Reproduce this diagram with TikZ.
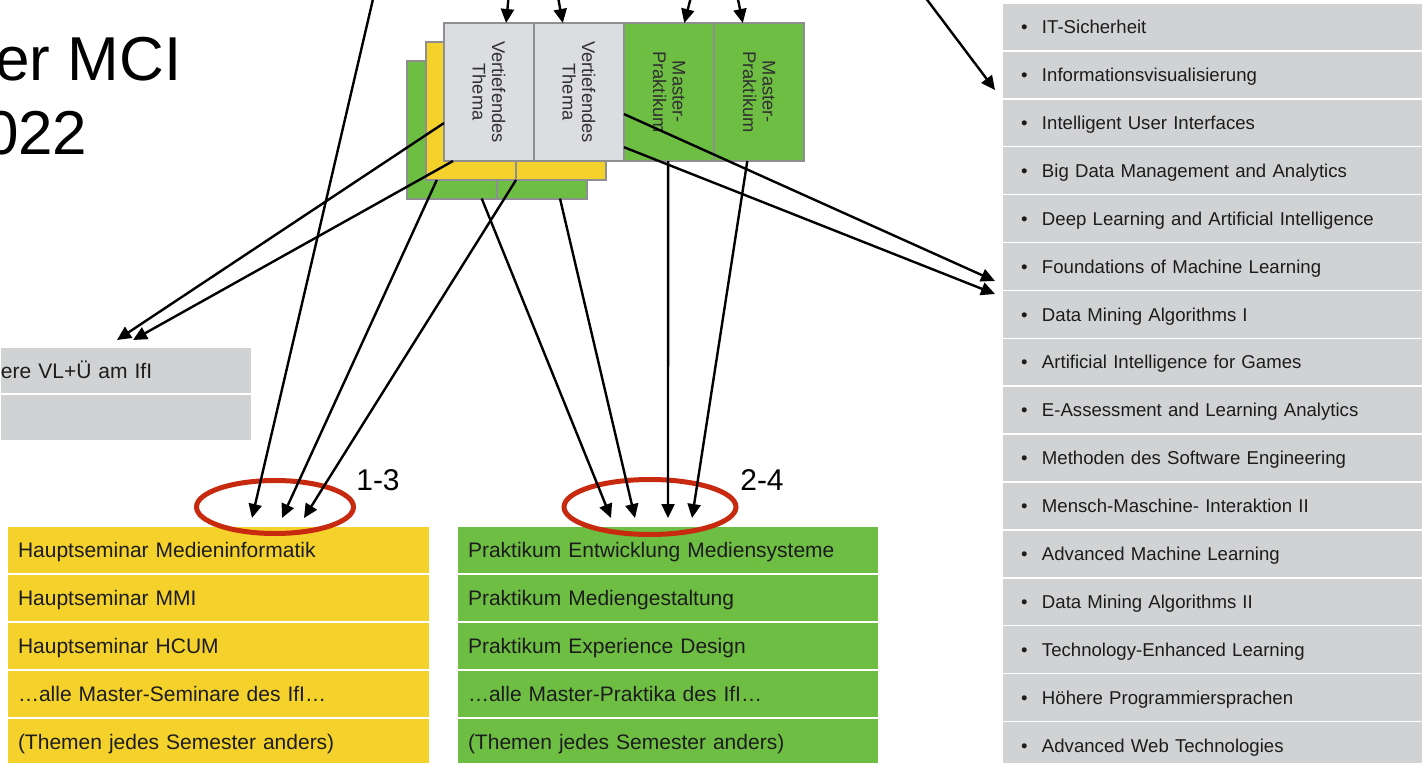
\documentclass[tikz,border=0pt]{standalone}
\usepackage{fontspec}
\setmainfont{Liberation Sans}
\usepackage{graphicx}
\usetikzlibrary{arrows.meta,calc,shapes.geometric}
\definecolor{boxgray}{HTML}{DCDDE1}
\definecolor{edgegray}{HTML}{8E8F91}
\definecolor{yel}{HTML}{F5D22B}
\definecolor{grn}{HTML}{6FBE44}
\definecolor{listgray}{HTML}{D1D2D4}
\definecolor{ringred}{HTML}{C82A10}
\definecolor{txt}{HTML}{1C1C1C}
\definecolor{boxtxt}{HTML}{303030}
\newcommand{\mcivtext}[1]{\rotatebox{-90}{\parbox{130pt}{\centering #1}}}
\begin{document}
\begin{tikzpicture}[x=1pt,y=-1pt,
  topbox/.style={draw=edgegray, line width=2pt, minimum width=90pt, minimum height=138pt,
    inner sep=0pt, outer sep=0pt, text=boxtxt, font=\fontsize{18.3}{19.5}\selectfont},
  vbox/.style={topbox, fill=boxgray},
  ybox/.style={topbox, fill=yel},
  gbox/.style={topbox, fill=grn},
  tabrow/.style={draw=white, line width=1.5pt, anchor=north west, outer sep=0pt,
    inner ysep=0pt, align=left, text depth=0pt, text=txt},
  yelrow/.style={tabrow, fill=yel, minimum height=48pt, inner xsep=11pt, text width=401pt,
    text height=15pt, font=\fontsize{21}{24}\selectfont},
  gnrow/.style={tabrow, fill=grn, minimum height=48pt, inner xsep=11pt, text width=400pt,
    text height=15pt, font=\fontsize{21}{24}\selectfont},
  leftrow/.style={tabrow, fill=listgray, minimum height=47pt, inner xsep=1pt, text width=250pt,
    text height=15pt, font=\fontsize{21}{24}\selectfont},
  listrow/.style={tabrow, fill=listgray, minimum height=47.9pt, inner xsep=19pt, text width=390pt,
    text height=13.3pt, font=\fontsize{18.6}{21}\selectfont},
  ring/.style={ellipse, draw=ringred, line width=5pt, inner sep=0pt},
  arr/.style={-{Triangle[length=14pt,width=13pt]}, line width=2.4pt, black},
  numlabel/.style={font=\fontsize{30}{30}\selectfont, text=black},
  titletext/.style={anchor=base east, font=\fontsize{62}{62}\selectfont, text=black}
]
\useasboundingbox (0,0) rectangle (1422,763);
\clip (0,0) rectangle (1422,763);

% title
\node[titletext] (title1) at (185,80) {er MCI};
\node[titletext] (title2) at (91,154) {022};

% stacked boxes
\node[gbox] (gb1) at (452,129.5) {};
\node[gbox] (gb2) at (542,129.5) {};
\node[ybox] (yb1) at (471,111) {};
\node[ybox] (yb2) at (561,111) {};
\node[vbox] (vt1) at (489,92) {\mcivtext{Vertiefendes\\Thema}};
\node[vbox] (vt2) at (579,92) {\mcivtext{Vertiefendes\\Thema}};
\node[gbox] (mp1) at (669,92) {\mcivtext{Master-\\Praktikum}};
\node[gbox] (mp2) at (759,92) {\mcivtext{Master-\\Praktikum}};

% left box
\node[leftrow] (lb1) at (0,347) {ere VL+Ü am IfI};
\node[leftrow] (lb2) at (0,394) {};

% seminar table
\foreach \t [count=\i] in {Hauptseminar Medieninformatik, Hauptseminar MMI, Hauptseminar HCUM,
  …alle Master-Seminare des IfI…, (Themen jedes Semester anders)}
  \node[yelrow] (ys\i) at (7,{526+48*(\i-1)}) {\t};

% praktikum table
\foreach \t [count=\i] in {Praktikum Entwicklung Mediensysteme, Praktikum Mediengestaltung,
  Praktikum Experience Design, …alle Master-Praktika des IfI…, (Themen jedes Semester anders)}
  \node[gnrow] (gp\i) at (457,{526+48*(\i-1)}) {\t};

% right list
\foreach \t [count=\i] in {IT-Sicherheit, Informationsvisualisierung, Intelligent User Interfaces,
  Big Data Management and Analytics, Deep Learning and Artificial Intelligence,
  Foundations of Machine Learning, Data Mining Algorithms I, Artificial Intelligence for Games,
  E-Assessment and Learning Analytics, Methoden des Software Engineering,
  Mensch-Maschine- Interaktion II, Advanced Machine Learning, Data Mining Algorithms II,
  Technology-Enhanced Learning, Höhere Programmiersprachen, Advanced Web Technologies}
  \node[listrow] (r\i) at (1002,{3+47.9*(\i-1)}) {\makebox[21pt][l]{•}\t};

% red rings and counts
\node[ring, minimum width=157pt, minimum height=53pt] (ring1) at (275,507) {};
\node[ring, minimum width=172pt, minimum height=55pt] (ring2) at (650,507) {};
\node[numlabel] (n13) at (378,480) {1-3};
\node[numlabel] (n24) at (762,480) {2-4};

% free ends
\coordinate (in1) at (508.6,-3);
\coordinate (in2) at (558,-3);
\coordinate (in3) at (691,-3);
\coordinate (in4) at (737.5,-3);
\coordinate (inL) at (373.5,-3);
\coordinate (inR) at (925,-3);
\coordinate (tL1) at (117,340);
\coordinate (tL2) at (133,340);
\coordinate (tR1) at (995,281);
\coordinate (tR2) at (995,294);
\coordinate (tI) at (995,90);
\coordinate (s1) at ($(ring1.center)+(-23,11)$);
\coordinate (s2) at ($(ring1.center)+(7,11)$);
\coordinate (s3) at ($(ring1.center)+(29,11)$);
\coordinate (p1) at ($(ring2.center)+(-39,11)$);
\coordinate (p2) at ($(ring2.center)+(-15,11)$);
\coordinate (p3) at ($(ring2.center)+(18,11)$);
\coordinate (p4) at ($(ring2.center)+(42,11)$);

% arrows
\draw[arr] (in1) -- ($(vt1.north west)!0.69!(vt1.north east)$);
\draw[arr] (in2) -- ($(vt2.north west)!0.32!(vt2.north east)$);
\draw[arr] (in3) -- ($(mp1.north west)!0.67!(mp1.north east)$);
\draw[arr] (in4) -- ($(mp2.north west)!0.32!(mp2.north east)$);
\draw[arr] (inL) -- (s1);
\draw[arr] (inR) -- (tI);
\draw[arr] ($(vt1.north west)!0.725!(vt1.south west)$) -- (tL1);
\draw[arr] ($(vt1.south west)!0.1!(vt1.south east)$) -- (tL2);
\draw[arr] ($(yb1.south west)!0.12!(yb1.south east)$) -- (s2);
\draw[arr] (yb1.south east) -- (s3);
\draw[arr] ($(gb1.south west)!0.83!(gb1.south east)$) -- (p1);
\draw[arr] ($(gb2.south west)!0.7!(gb2.south east)$) -- (p2);
\draw[arr] ($(mp1.south west)!0.49!(mp1.south east)$) -- (p3);
\draw[arr] ($(mp2.south west)!0.37!(mp2.south east)$) -- (p4);
\draw[arr] ($(vt2.north east)!0.66!(vt2.south east)$) -- (tR1);
\draw[arr] ($(vt2.north east)!0.9!(vt2.south east)$) -- (tR2);
\end{tikzpicture}
\end{document}
